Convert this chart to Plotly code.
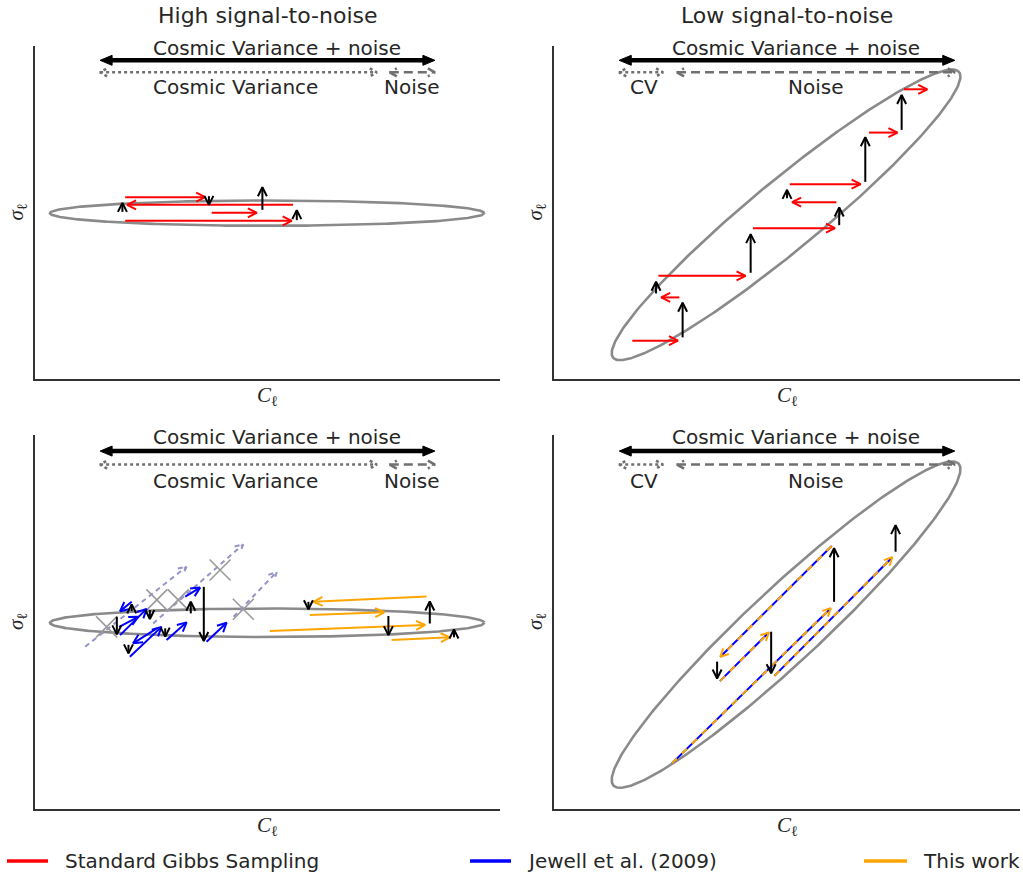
import numpy as np
import plotly.graph_objects as go

# ---------------- data (panel units: 0-100 along each axis) ----------------
TITLES = ["High signal-to-noise", "Low signal-to-noise"]
LEGEND_LABELS = ["Standard Gibbs Sampling", "Jewell et al. (2009)", "This work"]
X_LABEL = "<i>C</i><sub>ℓ</sub>"
Y_LABEL = "<i>σ</i><sub>ℓ</sub>"

# range bars at the top of every panel: (x_start, x_end, y)
CVN_BAR = (14.0, 86.0, 95.7)
HIGH_CV_BAR = (14.0, 73.5, 92.1)
HIGH_NOISE_BAR = (76.3, 86.0, 92.1)
LOW_CV_BAR = (14.0, 23.4, 92.1)
LOW_NOISE_BAR = (26.4, 86.0, 92.1)

CVN_TEXT = ("Cosmic Variance + noise", 52.0, 99.4)
HIGH_BAR_LABELS = [("Cosmic Variance", 43.2, 87.6), ("Noise", 80.9, 87.6)]
LOW_BAR_LABELS = [("CV", 19.3, 87.6), ("Noise", 56.1, 87.6)]

# posterior contours: (centre x, centre y, semi-major, semi-minor, angle deg)
HIGH_CONTOUR = (49.9, 49.8, 46.7, 3.8, 0.0)
LOW_CONTOUR = (49.8, 49.3, 56.8, 8.8, 49.6)

# steps: (x_from, y_from, x_to, y_to)
TL_RED = [(19.4, 54.6, 36.6, 54.6), (55.5, 52.3, 19.8, 52.3),
          (38.0, 49.9, 47.7, 49.9), (19.4, 47.5, 55.2, 47.5)]
TL_BLACK = [(18.8, 50.2, 18.8, 52.9), (37.4, 54.9, 37.4, 52.3),
            (48.9, 50.8, 48.9, 57.6), (56.3, 47.7, 56.3, 50.7)]

TR_RED = [(16.8, 11.5, 26.6, 11.5), (26.9, 24.5, 23.0, 24.5),
          (22.4, 31.0, 41.1, 31.0), (42.7, 45.3, 60.3, 45.3),
          (60.6, 53.1, 51.1, 53.1), (50.6, 58.5, 65.8, 58.5),
          (67.6, 74.0, 73.7, 74.0), (75.1, 87.0, 80.1, 87.0)]
TR_BLACK = [(27.6, 12.5, 27.6, 22.9), (21.9, 25.7, 21.9, 29.2),
            (42.2, 31.9, 42.2, 43.5), (61.2, 46.2, 61.2, 51.5),
            (50.0, 54.3, 50.0, 56.8), (66.8, 59.2, 66.8, 72.6),
            (74.6, 74.8, 74.6, 85.3)]

BL_ORANGE = [(84.2, 56.8, 59.9, 55.4), (59.1, 51.9, 75.1, 52.6),
             (50.5, 47.6, 83.9, 49.2), (76.7, 45.2, 89.2, 45.9)]
BL_BLUE = [(20.8, 55.4, 18.3, 52.9), (18.1, 48.7, 22.2, 51.4),
           (18.3, 46.5, 24.0, 53.5), (26.2, 48.3, 21.1, 44.3),
           (20.4, 40.7, 27.2, 48.7), (28.3, 45.2, 32.6, 49.9),
           (32.3, 56.8, 35.5, 59.2), (36.9, 44.7, 41.2, 49.8)]
BL_BLACK = [(58.8, 55.4, 58.8, 53.4), (76.0, 51.6, 76.0, 46.5),
            (84.9, 49.6, 84.9, 55.5), (90.1, 45.9, 90.1, 48.0),
            (17.6, 51.4, 17.6, 46.7), (20.8, 52.9, 20.8, 54.7),
            (24.7, 53.2, 24.7, 50.8), (20.1, 43.9, 20.1, 41.6),
            (28.0, 48.3, 28.0, 46.1), (33.5, 52.3, 33.5, 55.4),
            (36.3, 59.4, 36.3, 44.9)]
BL_PROPOSALS = [(10.8, 43.4, 32.6, 64.8), (25.4, 49.6, 44.8, 70.8),
                (42.7, 51.4, 52.0, 63.4)]
BL_REJECT_X = [15.4, 26.2, 30.8, 39.8, 44.8]
BL_REJECT_Y = [48.7, 55.9, 55.9, 63.9, 53.4]

BR_JOINT = [(25.3, 12.2, 59.4, 53.7), (59.6, 70.3, 35.7, 40.7),
            (35.6, 34.2, 46.1, 47.2), (47.3, 35.6, 72.6, 67.3)]
BR_BLACK = [(60.1, 55.4, 60.1, 69.7), (35.0, 39.4, 35.0, 34.9),
            (46.6, 47.4, 46.6, 36.3), (73.3, 68.8, 73.3, 75.9)]

# ---------------- layout geometry (pixels) ----------------
W, H = 1023, 877
COLS = [(35, 500), (554, 1020)]
ROWS = [(46, 379), (435, 809)]
TXT = "#262626"
FONT = "DejaVu Sans"
RED, BLUE, ORANGE = "#ff0000", "#0000ff", "#ffa500"
CONTOUR_C = "#8a8a8a"
BAR_GRAY = "#707070"


def scale(p):
    r, c = divmod(p, 2)
    return (COLS[c][1] - COLS[c][0]) / 100.0, (ROWS[r][1] - ROWS[r][0]) / 100.0


def refs(p):
    s = "" if p == 0 else str(p + 1)
    return "x" + s, "y" + s


def chevron(x0, y0, x1, y1, sx, sy, L, hw):
    dx, dy = (x1 - x0) * sx, (y1 - y0) * sy
    n = np.hypot(dx, dy)
    ux, uy = dx / n, dy / n
    tx, ty = x1 * sx, y1 * sy
    p1 = (tx - L * ux - hw * uy, ty - L * uy + hw * ux)
    p2 = (tx - L * ux + hw * uy, ty - L * uy - hw * ux)
    return [p1[0] / sx, x1, p2[0] / sx], [p1[1] / sy, y1, p2[1] / sy]


def arrows(segs, p, shaft=True, heads=True, both=False, L=9.0, hw=4.5):
    sx, sy = scale(p)
    xs, ys = [], []
    for (x0, y0, x1, y1) in segs:
        if shaft:
            xs += [x0, x1, None]
            ys += [y0, y1, None]
        if heads:
            ends = [(x0, y0, x1, y1)] + ([(x1, y1, x0, y0)] if both else [])
            for (a, b, c, d) in ends:
                hx, hy = chevron(a, b, c, d, sx, sy, L, hw)
                xs += hx + [None]
                ys += hy + [None]
    return xs, ys


fig = go.Figure()


def add_line(p, xs, ys, color, width, dash="solid", fill=None):
    xr, yr = refs(p)
    kw = dict(fill=fill, fillcolor=color) if fill else {}
    fig.add_trace(go.Scatter(x=xs, y=ys, mode="lines", xaxis=xr, yaxis=yr,
                             line=dict(color=color, width=width, dash=dash),
                             hoverinfo="skip", showlegend=False, **kw))


def add_contour(p, params):
    cx, cy, a, b, ang = params
    t = np.linspace(0, 2 * np.pi, 400)
    ph = np.deg2rad(ang)
    xs = cx + a * np.cos(ph) * np.cos(t) - b * np.sin(ph) * np.sin(t)
    ys = cy + a * np.sin(ph) * np.cos(t) + b * np.cos(ph) * np.sin(t)
    add_line(p, xs, ys, CONTOUR_C, 2.6)


def add_bars(p, cv_bar, noise_bar, labels):
    sx, sy = scale(p)
    xr, yr = refs(p)
    x0, x1, y = CVN_BAR
    Lh, hw = 12.0, 5.0
    add_line(p, [x0 + 0.6 * Lh / sx, x1 - 0.6 * Lh / sx], [y, y], "black", 4.5)
    tri_x, tri_y = [], []
    for (a, b) in [(x0, x1), (x1, x0)]:
        d = np.sign(b - a)
        tri_x += [a, a + d * Lh / sx, a + d * Lh / sx, a, None]
        tri_y += [y, y + hw / sy, y - hw / sy, y, None]
    add_line(p, tri_x, tri_y, "black", 1, fill="toself")
    c0, c1, cy = cv_bar
    xs, ys = arrows([(c0, cy, c1, cy)], p, both=True, L=7, hw=4)
    add_line(p, xs, ys, BAR_GRAY, 2.6, dash="dot")
    n0, n1, ny = noise_bar
    xs, ys = arrows([(n0, ny, n1, ny)], p, both=True, L=7, hw=4)
    add_line(p, xs, ys, BAR_GRAY, 2.6, dash="9px,5px")
    txt, tx, ty = CVN_TEXT
    fig.add_annotation(x=tx, y=ty, xref=xr, yref=yr, text=txt, showarrow=False,
                       font=dict(family=FONT, size=20, color=TXT),
                       xanchor="center", yanchor="middle")
    for (txt, tx, ty) in labels:
        fig.add_annotation(x=tx, y=ty, xref=xr, yref=yr, text=txt, showarrow=False,
                           font=dict(family=FONT, size=20, color=TXT),
                           xanchor="center", yanchor="middle")


# ---- top-left: high S/N, standard Gibbs
add_contour(0, HIGH_CONTOUR)
add_bars(0, HIGH_CV_BAR, HIGH_NOISE_BAR, HIGH_BAR_LABELS)
xs, ys = arrows(TL_RED, 0)
add_line(0, xs, ys, RED, 2)
xs, ys = arrows(TL_BLACK, 0)
add_line(0, xs, ys, "black", 2)

# ---- top-right: low S/N, standard Gibbs
add_contour(1, LOW_CONTOUR)
add_bars(1, LOW_CV_BAR, LOW_NOISE_BAR, LOW_BAR_LABELS)
xs, ys = arrows(TR_RED, 1)
add_line(1, xs, ys, RED, 2)
xs, ys = arrows(TR_BLACK, 1)
add_line(1, xs, ys, "black", 2)

# ---- bottom-left: high S/N, Jewell et al. and this work
add_contour(2, HIGH_CONTOUR)
add_bars(2, HIGH_CV_BAR, HIGH_NOISE_BAR, HIGH_BAR_LABELS)
xs, ys = arrows(BL_PROPOSALS, 2, L=8, hw=4)
add_line(2, xs, ys, "#9494c8", 2, dash="5px,4px")
fig.add_trace(go.Scatter(x=BL_REJECT_X, y=BL_REJECT_Y, mode="markers",
                         xaxis="x3", yaxis="y3", hoverinfo="skip", showlegend=False,
                         marker=dict(symbol="x-thin", size=21, color="#9a9a9a",
                                     line=dict(color="#9a9a9a", width=1.6))))
xs, ys = arrows(BL_BLUE, 2)
add_line(2, xs, ys, BLUE, 2)
xs, ys = arrows(BL_ORANGE, 2)
add_line(2, xs, ys, ORANGE, 2)
xs, ys = arrows(BL_BLACK, 2)
add_line(2, xs, ys, "black", 2)

# ---- bottom-right: low S/N, joint moves (both methods coincide)
add_contour(3, LOW_CONTOUR)
add_bars(3, LOW_CV_BAR, LOW_NOISE_BAR, LOW_BAR_LABELS)
xs, ys = arrows(BR_JOINT, 3, heads=False)
add_line(3, xs, ys, BLUE, 2)
add_line(3, xs, ys, ORANGE, 2, dash="7px,7px")
xs, ys = arrows(BR_JOINT, 3, shaft=False, L=8, hw=4)
add_line(3, xs, ys, ORANGE, 2)
xs, ys = arrows(BR_BLACK, 3)
add_line(3, xs, ys, "black", 2)

# ---------------- axes ----------------
layout_axes = {}
for p in range(4):
    r, c = divmod(p, 2)
    sfx = "" if p == 0 else str(p + 1)
    common = dict(range=[0, 100], showgrid=False, zeroline=False, showticklabels=False,
                  ticks="", showline=True, linecolor="#333333", linewidth=2,
                  mirror=False, fixedrange=True)
    layout_axes["xaxis" + sfx] = dict(domain=[COLS[c][0] / W, COLS[c][1] / W],
                                      anchor="y" + sfx, **common)
    layout_axes["yaxis" + sfx] = dict(domain=[1 - ROWS[r][1] / H, 1 - ROWS[r][0] / H],
                                      anchor="x" + sfx, **common)

fig.update_layout(width=W, height=H, margin=dict(l=0, r=0, t=0, b=0),
                  paper_bgcolor="white", plot_bgcolor="white", showlegend=False,
                  **layout_axes)

# titles and axis labels
for c, title in enumerate(TITLES):
    xc = (COLS[c][0] + COLS[c][1]) / 2 / W
    fig.add_annotation(x=xc, y=1 - 16 / H, xref="paper", yref="paper", text=title,
                       showarrow=False, font=dict(family=FONT, size=22, color=TXT),
                       xanchor="center", yanchor="middle")
    for r in range(2):
        fig.add_annotation(x=xc, y=1 - (ROWS[r][1] + 17) / H, xref="paper", yref="paper",
                           text=X_LABEL, showarrow=False,
                           font=dict(family="Liberation Serif", size=21, color=TXT),
                           xanchor="center", yanchor="middle")
        fig.add_annotation(x=(COLS[c][0] - 18) / W,
                           y=1 - (ROWS[r][0] + ROWS[r][1]) / 2 / H,
                           xref="paper", yref="paper", text=Y_LABEL, textangle=-90,
                           showarrow=False,
                           font=dict(family="Liberation Serif", size=21, color=TXT),
                           xanchor="center", yanchor="middle")

# legend (drawn below the panels)
LEG_POS = [(7, 48, 63), (470, 511, 525), (864, 907, 921)]
LEG_COLORS = [RED, BLUE, ORANGE]
ly = 1 - 861 / H
for (a, b, t), col, lab in zip(LEG_POS, LEG_COLORS, LEGEND_LABELS):
    fig.add_shape(type="line", xref="paper", yref="paper", x0=a / W, x1=b / W,
                  y0=ly, y1=ly, line=dict(color=col, width=3.5))
    fig.add_annotation(x=t / W, y=ly, xref="paper", yref="paper", text=lab,
                       showarrow=False, font=dict(family=FONT, size=20, color=TXT),
                       xanchor="left", yanchor="middle")

fig.write_html("out.html", config={"displayModeBar": False},
               post_script="document.body.style.margin='0';document.body.style.padding='0';"
                           "document.body.style.overflow='hidden';")
